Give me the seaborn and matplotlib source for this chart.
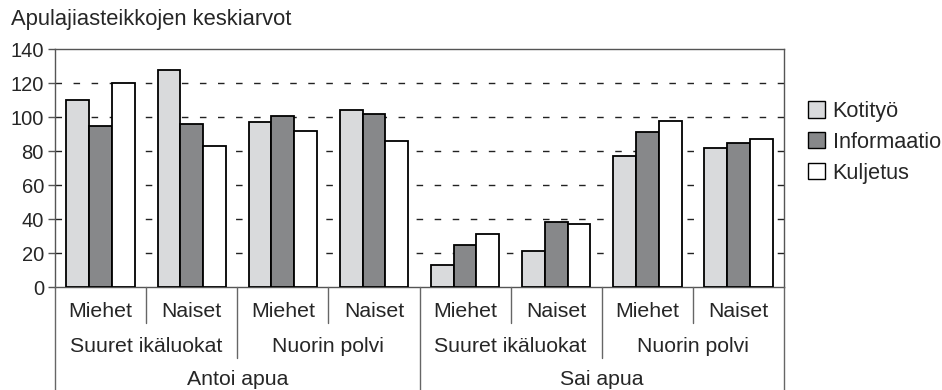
import matplotlib
matplotlib.use("Agg")
import matplotlib.pyplot as plt
import seaborn as sns
import pandas as pd
from matplotlib.patches import Patch
from matplotlib.transforms import blended_transform_factory

# Group levels (outermost first) and help types
apu = ["Antoi apua", "Sai apua"]
sukupolvet = ["Suuret ikäluokat", "Nuorin polvi"]
sukupuolet = ["Miehet", "Naiset"]
lajit = ["Kotityö", "Informaatio", "Kuljetus"]

# Mean scale values per group (8 groups, innermost level = gender)
kotityo = [110, 128, 97, 104, 13, 21, 77, 82]
informaatio = [95, 96, 101, 102, 25, 38, 91, 85]
kuljetus = [120, 83, 92, 86, 31, 37, 98, 87]

varit = ["#d9dadc", "#87888a", "#ffffff"]
y_otsikko = "Apulajiasteikkojen keskiarvot"
y_tikit = [0, 20, 40, 60, 80, 100, 120, 140]

# Build a long-form table
ryhmat = [(a, s, g) for a in apu for s in sukupolvet for g in sukupuolet]
avaimet = ["|".join(r) for r in ryhmat]
rivit = []
for laji, arvot in zip(lajit, [kotityo, informaatio, kuljetus]):
    for avain, arvo in zip(avaimet, arvot):
        rivit.append({"ryhmä": avain, "laji": laji, "arvo": arvo})
df = pd.DataFrame(rivit)

sns.set_style("white")
plt.rcParams["font.family"] = ["Liberation Sans", "DejaVu Sans"]

fig = plt.figure(figsize=(9.42, 3.9), dpi=100)
ax = fig.add_axes([0.0584, 0.2641, 0.7739, 0.6095])

# Dashed horizontal guides behind the bars
for y in y_tikit[1:-1]:
    ax.axhline(y, color="#222222", lw=1.0, dashes=(4.7, 8.3), zorder=1)

sns.barplot(data=df, x="ryhmä", y="arvo", hue="laji", order=avaimet,
            hue_order=lajit, palette=varit, width=0.75, saturation=1,
            edgecolor="black", linewidth=1.3, legend=False, ax=ax, zorder=3)

ax.set_ylim(0, 140)
ax.set_xlim(-0.5, len(avaimet) - 0.5)
ax.set_yticks(y_tikit)
ax.set_yticklabels([str(v) for v in y_tikit])
ax.set_xticks([])
ax.set_xlabel("")
ax.set_ylabel("")
for sp in ax.spines.values():
    sp.set_visible(True)
    sp.set_color("#555555")
    sp.set_linewidth(1.0)
ax.tick_params(axis="y", direction="out", length=5, width=1, color="#555555",
               labelsize=14.5, pad=3, left=True)

# Hierarchical category labels below the axis
tr = blended_transform_factory(ax.transData, ax.transAxes)
n = len(avaimet)
for i in range(n + 1):
    x = i - 0.5
    if i % 4 == 0:
        alaraja = -0.44
    elif i % 2 == 0:
        alaraja = -0.299
    else:
        alaraja = -0.151
    ax.plot([x, x], [0, alaraja], transform=tr, color="#666666", lw=1.0,
            clip_on=False, zorder=4)

fs = 15.3
for i, (a, s, g) in enumerate(ryhmat):
    ax.text(i, -0.104, g, transform=tr, ha="center", va="center", fontsize=fs)
for j in range(n // 2):
    ax.text(2 * j + 0.5, -0.252, ryhmat[2 * j][1], transform=tr,
            ha="center", va="center", fontsize=fs)
for k in range(n // 4):
    ax.text(4 * k + 1.5, -0.391, ryhmat[4 * k][0], transform=tr,
            ha="center", va="center", fontsize=fs)

fig.text(11 / 942, 1 - 25 / 390, y_otsikko, ha="left", va="baseline",
         fontsize=15.8)

kahvat = [Patch(facecolor=c, edgecolor="black", lw=1.0) for c in varit]
fig.legend(kahvat, lajit, loc="center left", bbox_to_anchor=(0.858, 0.635),
           frameon=False, fontsize=15.6, handlelength=0.78, handleheight=0.78,
           handletextpad=0.35, labelspacing=0.45, borderaxespad=0, borderpad=0)

fig.savefig("out.png", dpi=100)
